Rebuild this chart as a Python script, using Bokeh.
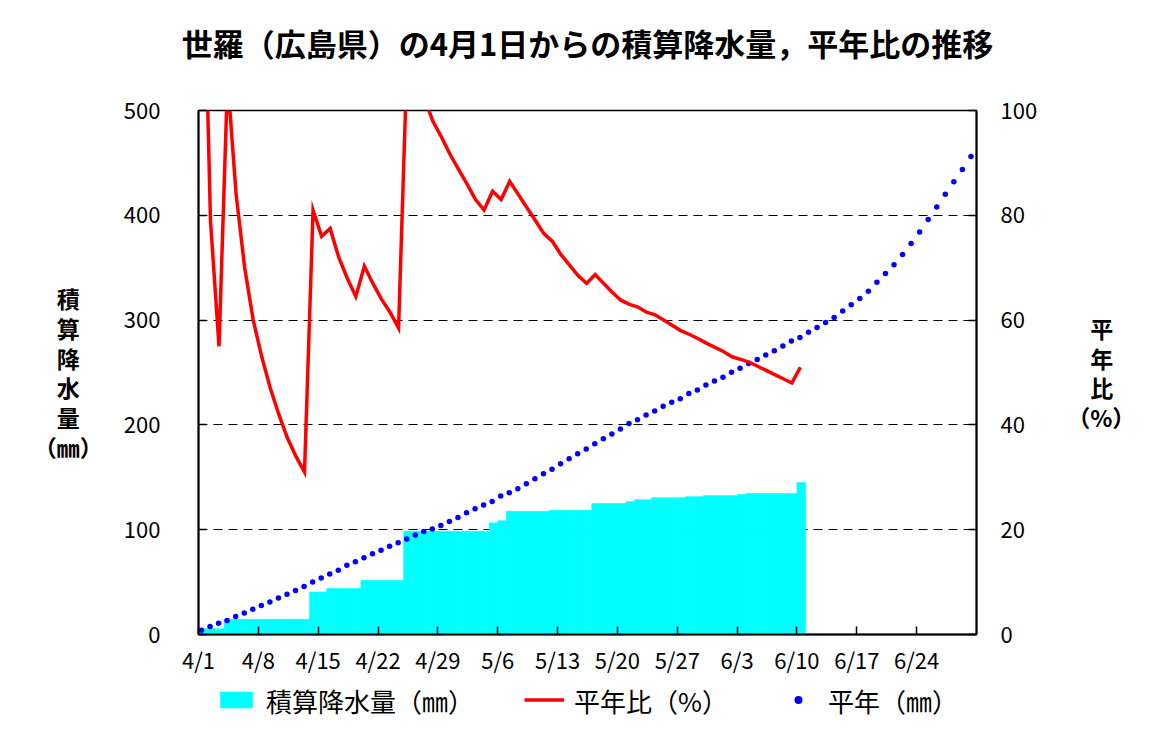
import numpy as np
from bokeh.plotting import figure
from bokeh.layouts import column
from bokeh.models import (Range1d, LinearAxis, FixedTicker, Legend,
                          LegendItem, ColumnDataSource)
from bokeh.embed import file_html
from bokeh.resources import INLINE

FONT = "Noto Sans CJK JP"

# ---------------- data ----------------
title_text = "世羅（広島県）の4月1日からの積算降水量，平年比の推移"
# stacked axis titles (full-width spaces keep the single characters centred)
left_title = "積　\n算　\n降　\n水　\n量　\n（㎜）"
right_title = "　平\n　年\n　比\n（%）"
legend_labels = ["積算降水量（㎜）", "平年比（%）", "平年（㎜）"]

tick_labels = ["4/1", "4/8", "4/15", "4/22", "4/29", "5/6", "5/13",
               "5/20", "5/27", "6/3", "6/10", "6/17", "6/24"]

# cumulative precipitation since 4/1 (mm), days 4/1 .. 6/10
cum_precip = [5.5, 5.5, 5.5,
              14.5, 14.5, 14.5, 14.5, 14.5, 14.5, 14.5, 14.5, 14.5, 14.5,
              40.5, 40.5,
              44.0, 44.0, 44.0, 44.0,
              51.5, 51.5, 51.5, 51.5, 51.5,
              98.5, 98.5, 98.5, 98.5, 98.5, 98.5, 98.5, 98.5, 98.5, 98.5,
              106.5, 108.5,
              117.5, 117.5, 117.5, 117.5, 117.5,
              118.5, 118.5, 118.5, 118.5, 118.5,
              125.0, 125.0, 125.0, 125.0,
              127.0,
              128.5, 128.5,
              130.5, 130.5, 130.5, 130.5,
              131.5, 131.5,
              132.5, 132.5, 132.5, 132.5,
              133.5,
              134.5, 134.5, 134.5, 134.5, 134.5, 134.5,
              145.0]

# ratio to normal (%), days 4/1 .. 6/10
ratio_pct = [146, 79, 55, 106, 84, 70, 60, 53, 47, 42, 37.5, 34, 31,
             81, 76, 77.5, 72, 68, 64.5, 70.3, 67, 64, 61.5, 58.5,
             110, 106, 102.5, 98, 95, 91.7, 88.8, 86, 83, 81,
             84.6, 83, 86.5, 84, 81.5, 79, 76.5, 75, 72.5, 70.5, 68.5, 67,
             68.7, 67, 65.3, 63.8, 63, 62.5, 61.5, 61, 60, 59, 58,
             57.3, 56.5, 55.6, 54.8, 54, 53, 52.5, 52, 51.2, 50.4, 49.6,
             48.8, 48, 51]

# normal cumulative precipitation (mm), days 4/1 .. 6/30
normal_mm = [4.1, 7.6, 10.8, 13.3, 17.1, 20.6, 24.1, 27.6, 31.1, 34.9,
             38.4, 41.9, 45.7, 50.2, 54.0, 57.8, 61.3, 66.0, 69.5, 73.3,
             77.1, 80.3, 84.1, 87.6, 91.1, 94.9, 98.4, 100.6, 104.1, 107.9,
             111.7, 116.2, 120.0, 123.5, 127.0, 132.1, 135.2, 139.0, 143.8, 148.6,
             153.3, 157.8, 162.9, 167.6, 172.4, 177.1, 181.9, 186.7, 191.4, 196.2,
             201.3, 204.8, 209.5, 213.3, 217.8, 221.6, 225.0, 230.0, 233.3, 238.1,
             241.9, 245.4, 250.2, 254.0, 258.7, 262.5, 266.7, 270.8, 275.2, 280.0,
             283.5, 288.3, 293.0, 297.8, 302.5, 308.6, 314.6, 320.6, 327.6, 336.2,
             344.4, 352.7, 362.5, 373.0, 384.1, 395.9, 407.9, 420.0, 432.1, 443.8,
             456.2]

# ---------------- layout sizes ----------------
W = 1147
TOP_H = 86
MAIN_TOP, MAIN_BOTTOM = 110 - TOP_H, 42
MAIN_H = MAIN_TOP + 525 + MAIN_BOTTOM
LEG_H = 722 - TOP_H - MAIN_H

BAR_COLOR, LINE_COLOR, DOT_COLOR = "#00FFFF", "#FF0000", "#0000FF"

# ---------------- title panel ----------------
top = figure(width=W, height=TOP_H, output_backend="svg", toolbar_location=None,
             x_axis_type=None, y_axis_type=None, title=title_text,
             x_range=Range1d(0, 1), y_range=Range1d(0, 1),
             min_border_left=198, min_border_right=W - 976,
             min_border_top=68, min_border_bottom=0)
top.outline_line_color = None
top.background_fill_color = "white"
top.border_fill_color = "white"
top.title.align = "center"
top.title.text_font = FONT
top.title.text_font_size = "31px"
top.title.text_font_style = "bold"
top.title.text_color = "black"
top.title.standoff = 8

# ---------------- main chart ----------------
p = figure(width=W, height=MAIN_H, output_backend="svg", toolbar_location=None,
           x_range=Range1d(0, 91), y_range=Range1d(0, 500),
           min_border_left=198, min_border_right=W - 976,
           min_border_top=MAIN_TOP, min_border_bottom=MAIN_BOTTOM)
p.extra_y_ranges = {"ratio": Range1d(0, 100)}
p.background_fill_color = "white"
p.border_fill_color = "white"
p.outline_line_color = "black"
p.outline_line_width = 1.5

bar_days = np.arange(len(cum_precip))
ratio_days = np.arange(len(ratio_pct))
normal_days = np.arange(len(normal_mm))

src_bar = ColumnDataSource(dict(x=bar_days + 0.5, top=cum_precip))
src_ratio = ColumnDataSource(dict(x=ratio_days + 0.4, y=ratio_pct))
src_norm = ColumnDataSource(dict(x=normal_days + 0.35, y=normal_mm))

bar_style = dict(fill_color=BAR_COLOR, line_color=BAR_COLOR, line_width=0.6)
dot_style = dict(size=5.5, fill_color=DOT_COLOR, line_color=None, marker="circle")
line_style = dict(line_color=LINE_COLOR, line_width=3.5, line_join="miter")

p.vbar(x="x", top="top", bottom=0, width=1.0, source=src_bar, **bar_style)
p.scatter(x="x", y="y", source=src_norm, **dot_style)
p.line(x="x", y="y", source=src_ratio, y_range_name="ratio", **line_style)


def style_axis(ax):
    ax.axis_line_color = "black"
    ax.axis_line_width = 2
    ax.major_tick_line_color = "black"
    ax.major_tick_line_width = 1.5
    ax.major_tick_in = 8
    ax.major_tick_out = 0
    ax.minor_tick_line_color = None
    ax.major_label_text_font = FONT
    ax.major_label_text_font_size = "22px"
    ax.major_label_text_color = "black"
    ax.axis_label_text_font = FONT
    ax.axis_label_text_font_size = "23px"
    ax.axis_label_text_font_style = "bold"
    ax.axis_label_text_color = "black"
    ax.axis_label_text_line_height = 0.88


xax = p.xaxis[0]
style_axis(xax)
xax.ticker = FixedTicker(ticks=list(range(0, 7 * len(tick_labels), 7)))
xax.major_label_overrides = {7 * i: lab for i, lab in enumerate(tick_labels)}
xax.major_label_standoff = 8

yax = p.yaxis[0]
style_axis(yax)
yax.ticker = FixedTicker(ticks=[0, 100, 200, 300, 400, 500])
yax.major_label_standoff = 38
yax.axis_label = left_title
yax.axis_label_orientation = "horizontal"
yax.axis_label_standoff = 18

rax = LinearAxis(y_range_name="ratio")
style_axis(rax)
rax.ticker = FixedTicker(ticks=[0, 20, 40, 60, 80, 100])
rax.major_label_standoff = 24
rax.axis_label = right_title
rax.axis_label_orientation = "horizontal"
rax.axis_label_standoff = 27
p.add_layout(rax, "right")

p.xgrid.visible = False
p.ygrid.ticker = FixedTicker(ticks=[100, 200, 300, 400])
p.ygrid.grid_line_color = "black"
p.ygrid.grid_line_width = 1
p.ygrid.grid_line_dash = "9 6"

# ---------------- legend strip ----------------
# the same series are bound here (outside this strip's visible range) so the
# legend swatches are drawn with the series' own glyphs
leg = figure(width=W, height=LEG_H, output_backend="svg", toolbar_location=None,
             x_axis_type=None, y_axis_type=None,
             x_range=Range1d(1000, 1001), y_range=Range1d(1000, 1001),
             min_border_left=198, min_border_right=W - 976,
             min_border_top=0, min_border_bottom=0)
leg.outline_line_color = None
leg.background_fill_color = "white"
leg.border_fill_color = "white"
lg_bar = leg.vbar(x="x", top="top", bottom=0, width=1.0, source=src_bar, **bar_style)
lg_line = leg.line(x="x", y="y", source=src_ratio, **line_style)
lg_dot = leg.scatter(x="x", y="y", source=src_norm, **dot_style)

legend = Legend(items=[LegendItem(label=legend_labels[0], renderers=[lg_bar]),
                       LegendItem(label=legend_labels[1], renderers=[lg_line]),
                       LegendItem(label=legend_labels[2], renderers=[lg_dot])],
                orientation="horizontal", location="center")
legend.glyph_width = 40
legend.glyph_height = 20
legend.label_standoff = 10
legend.spacing = 50
legend.padding = 0
legend.margin = 0
legend.label_text_font = FONT
legend.label_text_font_size = "26px"
legend.label_text_color = "black"
legend.border_line_color = None
legend.background_fill_alpha = 0
leg.add_layout(legend, "center")

layout = column(top, p, leg, spacing=0)

open("out.html", "w").write(file_html(layout, INLINE))
